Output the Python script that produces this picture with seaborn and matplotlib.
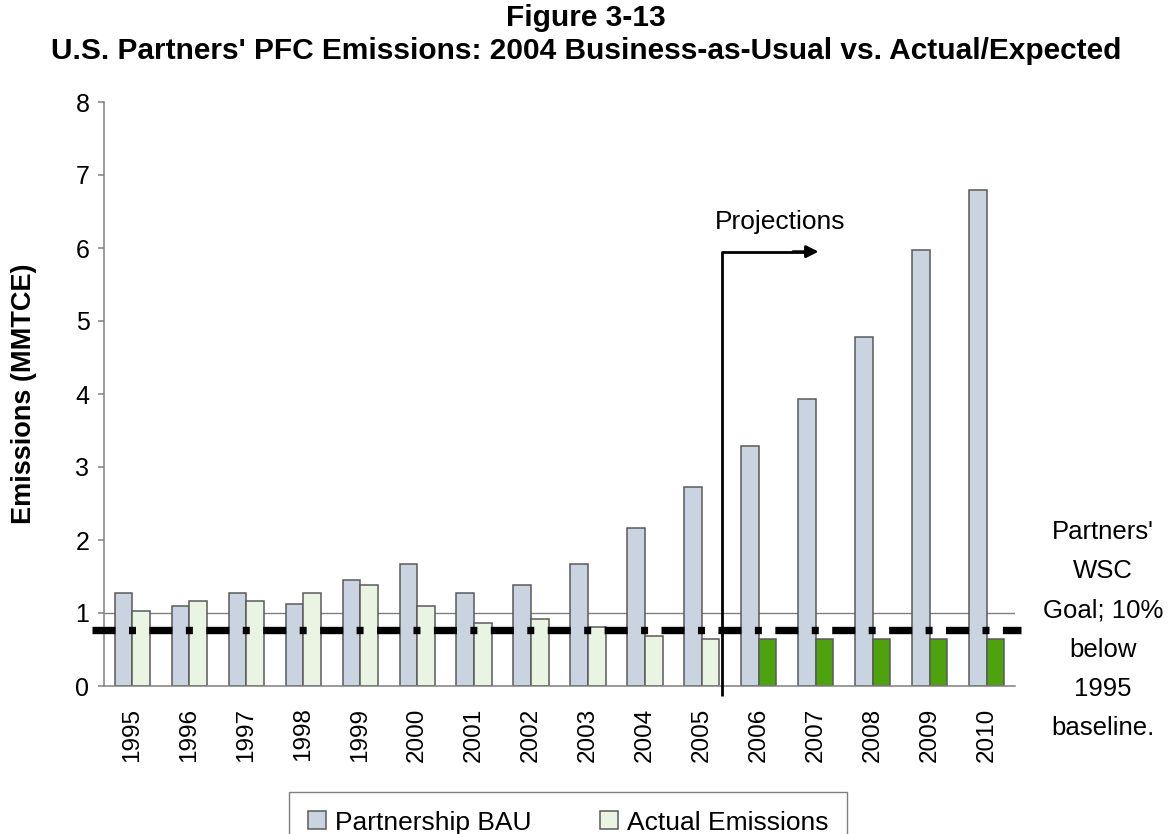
import numpy as np
import pandas as pd
import matplotlib
matplotlib.use("Agg")
import matplotlib.pyplot as plt
import seaborn as sns

# values (MMTCE)
years = [str(y) for y in range(1995, 2011)]
bau = [1.27, 1.10, 1.27, 1.13, 1.45, 1.67, 1.27, 1.38, 1.67, 2.17, 2.73, 3.29, 3.93, 4.78, 5.97, 6.79]
actual = [1.03, 1.17, 1.17, 1.27, 1.38, 1.10, 0.86, 0.92, 0.81, 0.68, 0.64, 0.64, 0.64, 0.64, 0.64, 0.64]
series = ["Partnership BAU", "Actual Emissions"]
first_projected = "2006"
goal = 0.77
reference = 1.0
y_ticks = [0, 1, 2, 3, 4, 5, 6, 7, 8]

df = pd.DataFrame({
    "Year": years * 2,
    "Series": [series[0]] * len(years) + [series[1]] * len(years),
    "Emissions": bau + actual,
})

sns.set_style("white")
plt.rcParams['font.family'] = ['Liberation Sans', 'DejaVu Sans']
plt.rcParams['text.color'] = 'black'
plt.rcParams['axes.labelcolor'] = 'black'
plt.rcParams['xtick.labelcolor'] = 'black'
plt.rcParams['ytick.labelcolor'] = 'black'

fig = plt.figure(figsize=(11.72, 8.34), dpi=100)
ax = fig.add_axes([104 / 1172, 1 - 686 / 834, 911 / 1172, 584 / 834])

# thin reference line at 1 sits behind the bars
ax.axhline(reference, color='#808080', lw=1.0, zorder=0)

sns.barplot(data=df, x='Year', y='Emissions', hue='Series',
            palette=['#c9d4e0', '#e9f5e2'], width=0.62, gap=0,
            edgecolor='#5a5a5a', linewidth=1.1, saturation=1,
            ax=ax, zorder=2)

# expected emissions after 2005 are drawn in solid green
start = years.index(first_projected)
for bar in ax.containers[1].patches[start:]:
    bar.set_facecolor('#4ea20e')

handles, labels = ax.get_legend_handles_labels()
if ax.legend_ is not None:
    ax.legend_.remove()

# WSC goal line
ax.plot([-0.71, 15.6], [goal, goal], color='black', lw=5.3,
        linestyle=(0, (3.13, 1.825, 0.95, 1.825)), dash_capstyle='butt',
        clip_on=False, zorder=4)

# projections marker
ax.plot([10.36, 10.36, 11.8], [-0.14, 5.95, 5.95], color='black', lw=2,
        clip_on=False, zorder=5, solid_capstyle='butt')
ax.annotate('', xy=(12.05, 5.95), xytext=(11.6, 5.95),
            arrowprops=dict(arrowstyle='-|>', color='black', lw=2,
                            mutation_scale=18, shrinkA=0, shrinkB=0))
ax.text(11.38, 6.36, 'Projections', fontsize=19, ha='center', va='center')

ax.set_xlim(-0.5, 15.5)
ax.set_ylim(0, 8)
ax.set_yticks(y_ticks)
ax.set_xticks(range(len(years)))
ax.set_xticks(np.arange(-0.5, len(years), 1.0), minor=True)
ax.set_xticklabels(years, rotation=90)
ax.tick_params(axis='x', which='major', length=0, pad=15.5, labelsize=17.5)
ax.tick_params(axis='x', which='minor', length=6, width=1.1, color='#808080', direction='out')
ax.tick_params(axis='y', length=4.5, width=1.1, color='#808080', direction='out',
               pad=6, labelsize=18, left=True)

sns.despine(ax=ax)
for side in ['left', 'bottom']:
    ax.spines[side].set_color('#808080')
    ax.spines[side].set_linewidth(1.1)

ax.set_xlabel('')
ax.set_ylabel('Emissions (MMTCE)', fontsize=19.5, fontweight='bold')
ax.yaxis.set_label_coords((37 - 104) / 911, 0.5)

fig.text(0.5, 1 - 18 / 834, 'Figure 3-13', ha='center', va='center',
         fontsize=21.5, fontweight='bold')
fig.text(0.5, 1 - 51 / 834,
         "U.S. Partners' PFC Emissions: 2004 Business-as-Usual vs. Actual/Expected",
         ha='center', va='center', fontsize=21.5, fontweight='bold')

fig.text(1103 / 1172, 1 - 630 / 834,
         "Partners'\nWSC\nGoal; 10%\nbelow\n1995\nbaseline.",
         ha='center', va='center', multialignment='center',
         fontsize=18.5, linespacing=1.8)

fig.legend(handles, labels, loc='upper left', bbox_to_anchor=(276 / 1172, 1 - 779 / 834),
           ncol=2, fontsize=19, frameon=True, fancybox=False, framealpha=1,
           edgecolor='#808080', handlelength=0.68, handleheight=0.68,
           handletextpad=0.34, columnspacing=2.6, borderpad=0.7)

fig.savefig('out.png', dpi=100)
